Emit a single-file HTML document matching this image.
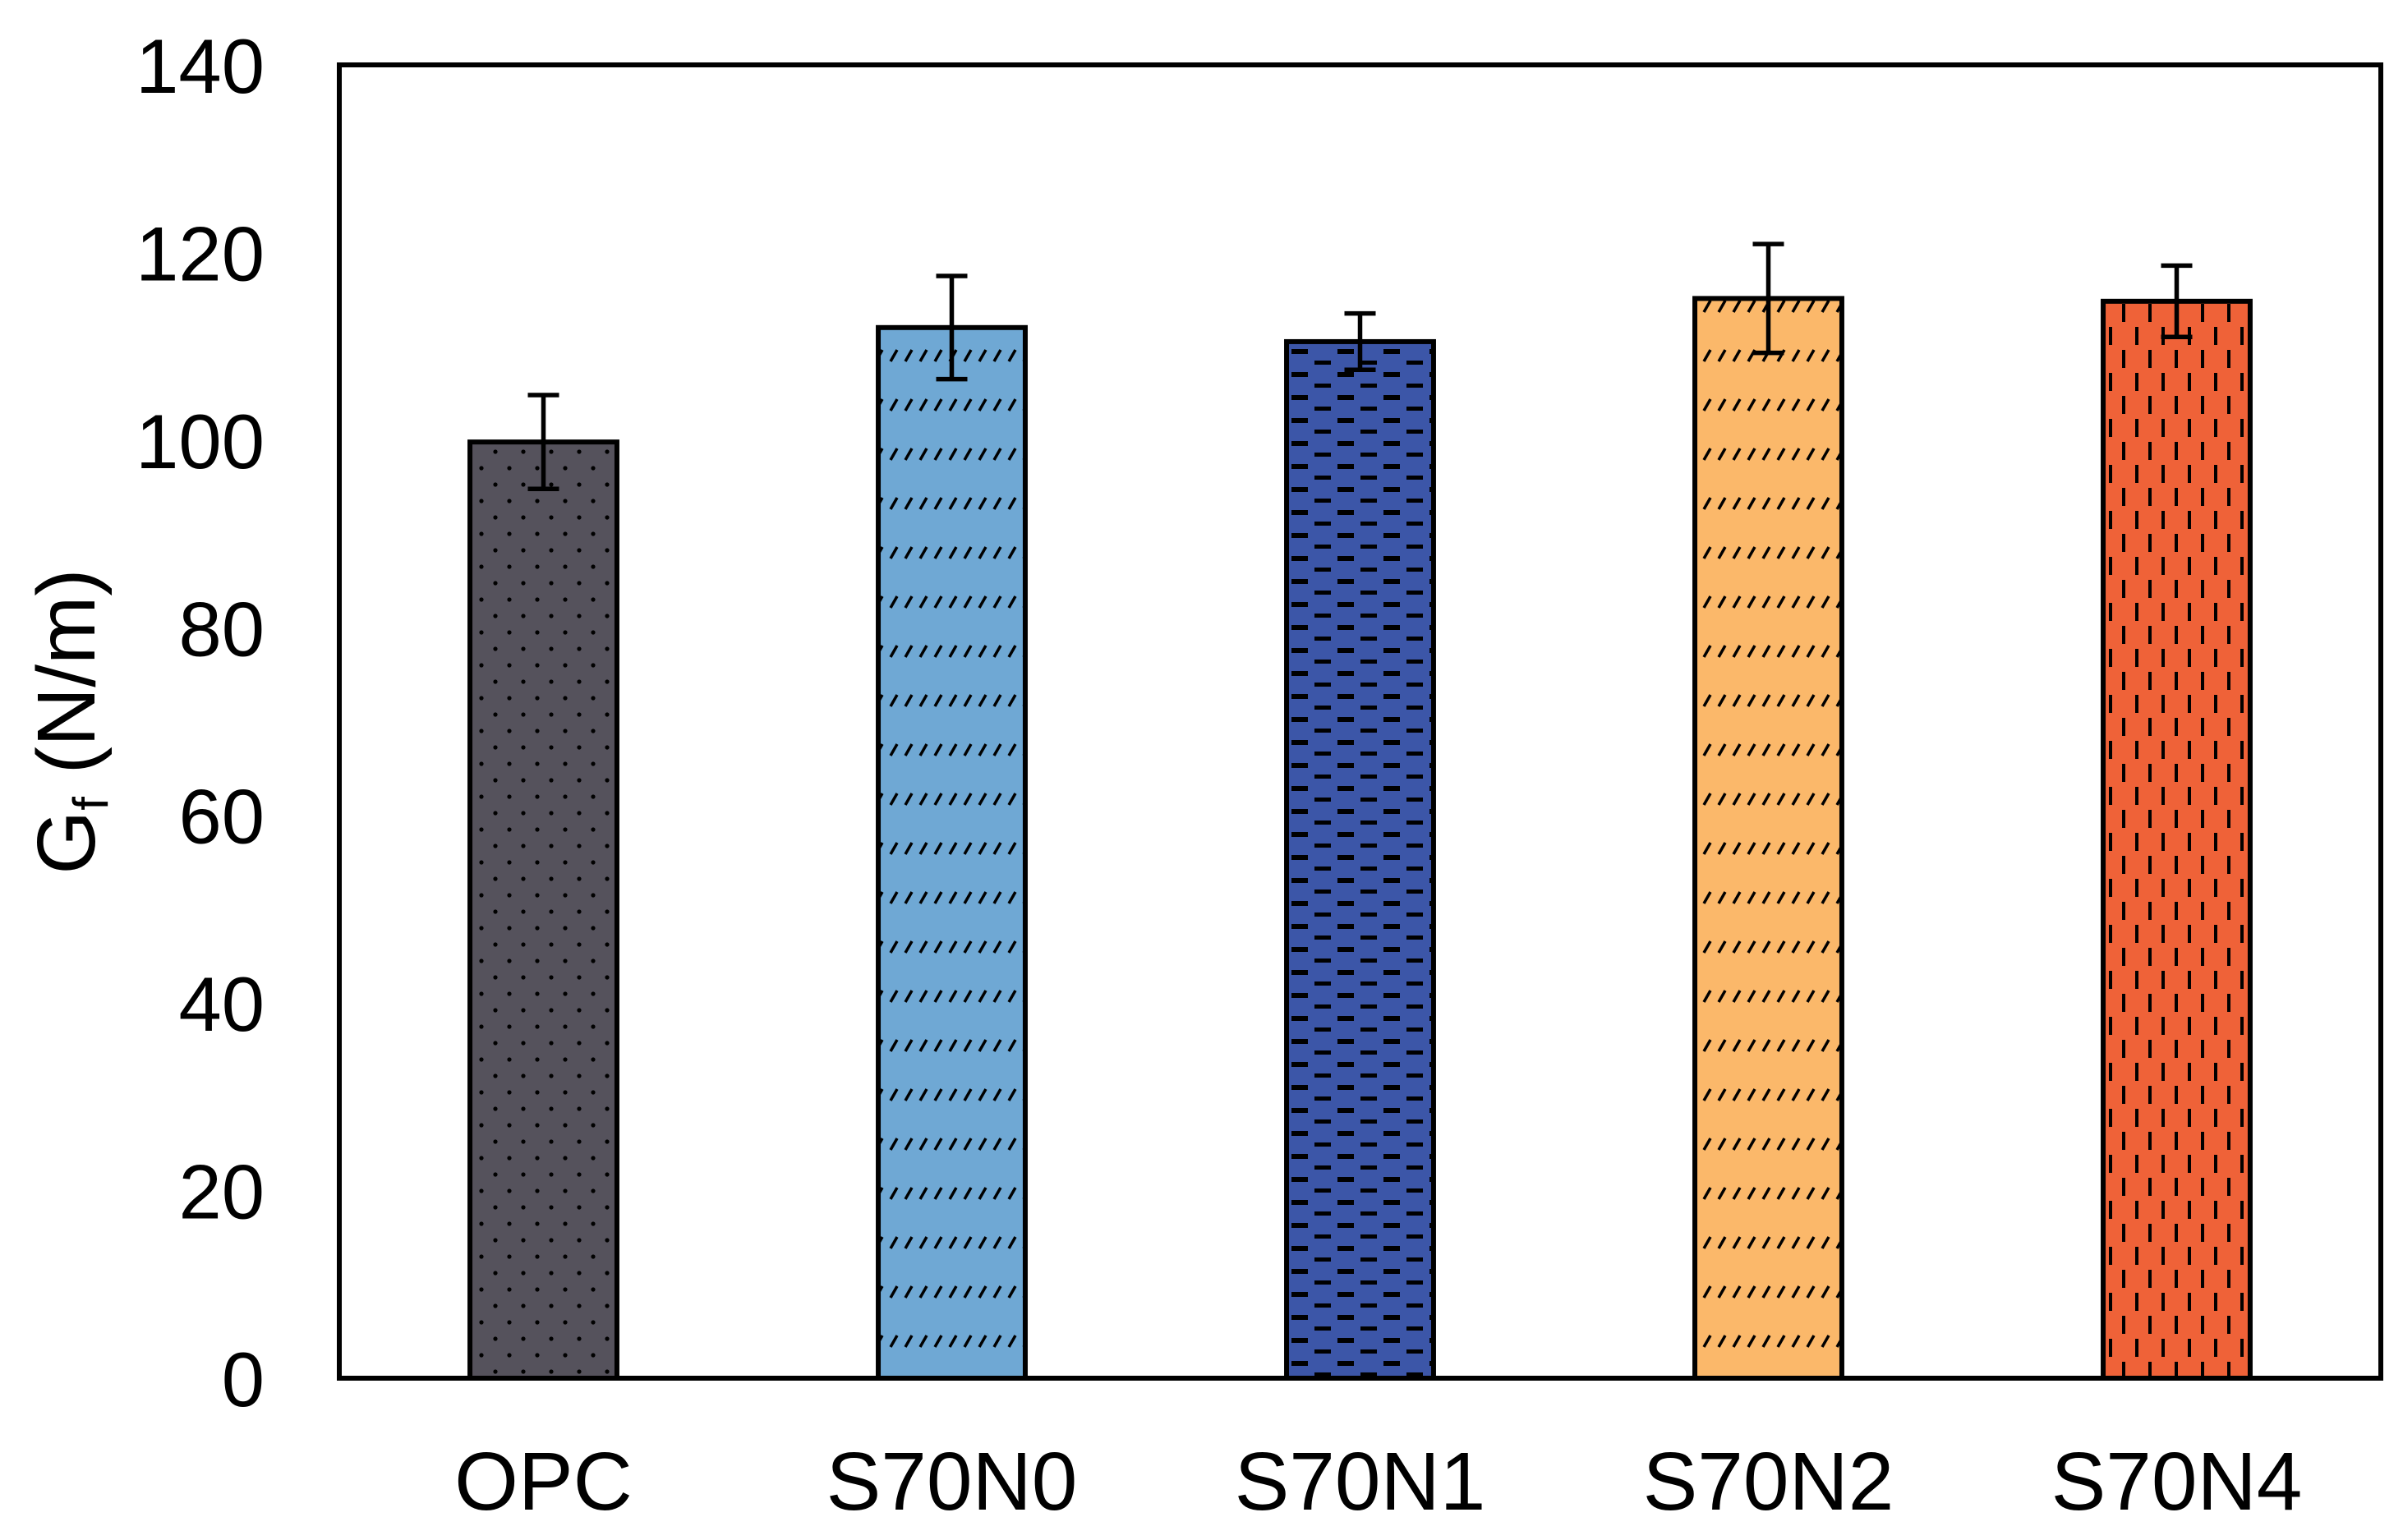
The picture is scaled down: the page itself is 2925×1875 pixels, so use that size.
<!DOCTYPE html>
<html><head><meta charset="utf-8"><style>
html,body{margin:0;padding:0;background:#fff}
svg{display:block}
text{font-family:"Liberation Sans",Arial,sans-serif;fill:#000}
</style></head><body>
<svg id="chart" width="2925" height="1875" viewBox="0 0 2925 1875" xmlns="http://www.w3.org/2000/svg">
<defs>
<pattern id="p-dots" patternUnits="userSpaceOnUse" width="34" height="40">
<circle cx="8" cy="10" r="2.6" fill="#000"/><circle cx="25" cy="30" r="2.6" fill="#000"/></pattern>
<pattern id="p-diag" patternUnits="userSpaceOnUse" width="18" height="60">
<line x1="4" y1="20" x2="12" y2="6" stroke="#000" stroke-width="3.5"/></pattern>
<pattern id="p-hdash" patternUnits="userSpaceOnUse" width="56" height="28">
<rect x="4" y="5" width="20" height="6" fill="#000"/><rect x="32" y="19" width="20" height="5" fill="#000"/></pattern>
<pattern id="p-vdash" patternUnits="userSpaceOnUse" width="32" height="56">
<rect x="7" y="6" width="4" height="22" fill="#000"/><rect x="23" y="34" width="4" height="22" fill="#000"/></pattern>
</defs>
<g id="plot"></g>
</svg>
<script>
const categories = ["OPC","S70N0","S70N1","S70N2","S70N4"];
const values = [99.8, 112.0, 110.5, 115.1, 114.8];
const errors = [5.0, 5.5, 3.0, 5.8, 3.8];
const yTicks = [0,20,40,60,80,100,120,140];
const colors = ["#55525c","#6fa8d4","#3c56a8","#fbb86a","#ef6238"];
const patterns = ["p-dots","p-diag","p-hdash","p-diag","p-vdash"];

const L=413, R=2898, T=79, B=1678, yMax=140;
const NS="http://www.w3.org/2000/svg";
const g=document.getElementById('plot');
function y(v){return B-(v/yMax)*(B-T);}
const band=(R-L)/categories.length;
function xc(i){return L+band*(i+0.5);}
function mk(tag,attrs){const e=document.createElementNS(NS,tag);for(const k in attrs)e.setAttribute(k,attrs[k]);g.appendChild(e);return e;}

yTicks.forEach(t=>{
  const e=mk('text',{x:322,y:y(t)+34,'text-anchor':'end','font-size':94});
  e.textContent=t;
  
  
});
const bw=band*0.36;
categories.forEach((c,i)=>{
  const x0=xc(i)-bw/2, yt=y(values[i]);
  const r=mk('rect',{x:x0,y:yt,width:bw,height:B-yt,fill:colors[i]});
  
  
  const r2=mk('rect',{x:x0,y:yt,width:bw,height:B-yt,fill:'url(#'+patterns[i]+')',stroke:'#000','stroke-width':6});
  
  
  const eg=document.createElementNS(NS,'g');
  
  
  g.appendChild(eg);
  const hi=y(values[i]+errors[i]), lo=y(values[i]-errors[i]), cx=xc(i);
  [[cx,hi,cx,lo],[cx-19,hi,cx+19,hi],[cx-19,lo,cx+19,lo]].forEach(a=>{
    const l=document.createElementNS(NS,'line');
    l.setAttribute('x1',a[0]);l.setAttribute('y1',a[1]);l.setAttribute('x2',a[2]);l.setAttribute('y2',a[3]);
    l.setAttribute('stroke','#000');l.setAttribute('stroke-width',5.5);
    eg.appendChild(l);
  });
  const t=mk('text',{x:cx,y:1838,'text-anchor':'middle','font-size':100});
  t.textContent=c;
  
  
});
const f=mk('rect',{x:L,y:T,width:R-L,height:B-T,fill:'none',stroke:'#000','stroke-width':6});


const yt=mk('text',{transform:'translate(115,'+((T+B)/2)+') rotate(-90)','text-anchor':'middle','font-size':100});
yt.innerHTML='G<tspan font-size="60" dy="16">f</tspan><tspan dy="-16"> (N/m)</tspan>';


</script>
</body></html>
